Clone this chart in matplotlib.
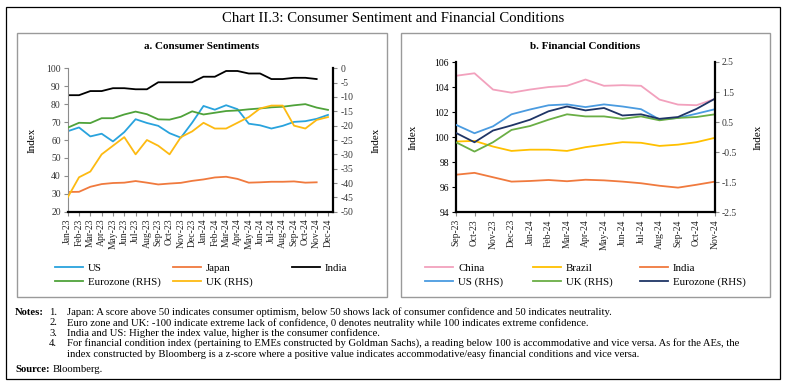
import numpy as np
import matplotlib
matplotlib.use("Agg")
import matplotlib.pyplot as plt
from matplotlib.patches import Rectangle

plt.rcParams['font.family'] = ['Liberation Serif', 'DejaVu Serif']
plt.rcParams['axes.unicode_minus'] = False

# panel a: consumer sentiments (Jan-23 .. Dec-24)
months_a = ['Jan-23', 'Feb-23', 'Mar-23', 'Apr-23', 'May-23', 'Jun-23', 'Jul-23', 'Aug-23',
            'Sep-23', 'Oct-23', 'Nov-23', 'Dec-23', 'Jan-24', 'Feb-24', 'Mar-24', 'Apr-24',
            'May-24', 'Jun-24', 'Jul-24', 'Aug-24', 'Sep-24', 'Oct-24', 'Nov-24', 'Dec-24']
us_a = [64.9, 67.0, 62.0, 63.5, 59.2, 64.4, 71.6, 69.5, 67.9, 63.8, 61.3, 69.7,
        79.0, 76.9, 79.4, 77.2, 69.1, 68.2, 66.4, 67.9, 70.1, 70.5, 71.8, 74.0]
japan_a = [31.0, 31.1, 33.9, 35.4, 36.0, 36.2, 37.1, 36.2, 35.2, 35.7, 36.1, 37.2,
           38.0, 39.1, 39.5, 38.3, 36.2, 36.4, 36.7, 36.7, 36.9, 36.2, 36.4, np.nan]
india_a = [85.0, 85.0, 87.3, 87.3, 88.9, 88.9, 88.3, 88.3, 92.2, 92.2, 92.2, 92.2,
           95.3, 95.3, 98.5, 98.5, 97.1, 97.1, 94.0, 94.0, 94.7, 94.7, 94.0, np.nan]
ez_a = [-20.7, -19.0, -19.1, -17.4, -17.4, -16.1, -15.1, -16.0, -17.8, -17.9, -16.9, -15.0,
        -16.1, -15.5, -14.9, -14.7, -14.3, -14.0, -13.6, -13.4, -12.9, -12.5, -13.7, -14.5]
uk_a = [-45, -38, -36, -30, -27, -24, -30, -25, -27, -30, -24, -22,
        -19, -21, -21, -19, -17, -14, -13, -13, -20, -21, -18, -17]

# panel b: financial conditions (Sep-23 .. Nov-24)
months_b = ['Sep-23', 'Oct-23', 'Nov-23', 'Dec-23', 'Jan-24', 'Feb-24', 'Mar-24', 'Apr-24',
            'May-24', 'Jun-24', 'Jul-24', 'Aug-24', 'Sep-24', 'Oct-24', 'Nov-24']
china_b = [104.9, 105.1, 103.8, 103.55, 103.8, 104.0, 104.1, 104.6, 104.1, 104.15, 104.1,
           103.0, 102.6, 102.55, 103.05]
brazil_b = [99.65, 99.7, 99.25, 98.9, 99.0, 99.0, 98.9, 99.2, 99.4, 99.6, 99.55, 99.3,
            99.4, 99.6, 99.95]
india_b = [97.0, 97.15, 96.8, 96.45, 96.5, 96.58, 96.48, 96.6, 96.55, 96.45, 96.32, 96.12,
           95.97, 96.2, 96.45]
us_b = [0.41, 0.13, 0.36, 0.76, 0.92, 1.06, 1.09, 1.0, 1.09, 1.02, 0.93, 0.59, 0.64, 0.78, 0.93]
uk_b = [-0.17, -0.48, -0.17, 0.24, 0.37, 0.58, 0.76, 0.69, 0.69, 0.61, 0.69, 0.56, 0.64, 0.67, 0.76]
ez_b = [0.14, -0.17, 0.22, 0.39, 0.58, 0.86, 1.02, 0.89, 0.97, 0.72, 0.76, 0.61, 0.67, 0.94, 1.28]

W, H = 786, 386
fig = plt.figure(figsize=(W / 100, H / 100), dpi=100)


def fx(x):
    return x / W


def fy(y):
    return 1 - y / H


def box(x0, y0, x1, y1, color, lw):
    fig.patches.append(Rectangle((fx(x0), fy(y1)), fx(x1) - fx(x0), fy(y0) - fy(y1),
                                 transform=fig.transFigure, fill=False, ec=color, lw=lw))


# outer frame and panel frames
box(6, 7, 780, 379, 'black', 0.9)
box(17, 33, 387, 297, '#9a9a9a', 1.0)
box(401, 33, 770, 297, '#9a9a9a', 1.0)

fig.text(fx(393), fy(19), 'Chart II.3: Consumer Sentiment and Financial Conditions',
         ha='center', va='center', fontsize=10.6)
fig.text(fx(202), fy(46.5), 'a. Consumer Sentiments', ha='center', va='center',
         fontsize=8, fontweight='bold')
fig.text(fx(585), fy(46.5), 'b. Financial Conditions', ha='center', va='center',
         fontsize=8, fontweight='bold')

lw = 1.3
tick_fs = 6.9


def style_axes(ax, ax2, left_grey):
    ax.spines['top'].set_visible(False)
    ax2.spines['top'].set_visible(False)
    ax2.spines['left'].set_visible(False)
    ax2.spines['bottom'].set_visible(False)
    ax.spines['right'].set_visible(False)
    ax.spines['bottom'].set_linewidth(1.6)
    ax2.spines['right'].set_linewidth(1.6)
    if left_grey:
        ax.spines['left'].set_color('#8c8c8c')
        ax.spines['left'].set_linewidth(0.8)
        ax.tick_params(axis='y', colors='#8c8c8c', labelcolor='#333333')
    else:
        ax.spines['left'].set_linewidth(1.6)
    ax.tick_params(axis='both', direction='out', length=3, width=0.8, labelsize=tick_fs, pad=2)
    ax.tick_params(axis='x', colors='#8c8c8c', labelcolor='#222222')
    ax2.tick_params(axis='y', direction='out', length=3, width=0.8, labelsize=tick_fs, pad=2,
                    colors='#8c8c8c', labelcolor='#333333')


# ---- panel a ----
ax = fig.add_axes([fx(67.7), fy(211.7), fx(333.3) - fx(67.7), fy(68.3) - fy(211.7)])
ax2 = ax.twinx()
xa = np.arange(len(months_a))
l_us, = ax.plot(xa, us_a, color='#29A3DD', lw=lw, label='US')
l_jp, = ax.plot(xa, japan_a, color='#F07A3E', lw=lw, label='Japan')
l_in, = ax.plot(xa, india_a, color='black', lw=lw, label='India')
l_ez, = ax2.plot(xa, ez_a, color='#4FA23A', lw=lw, label='Eurozone (RHS)')
l_uk, = ax2.plot(xa, uk_a, color='#FDBA12', lw=lw, label='UK (RHS)')
ax.set_xlim(0, 23.47)
ax.set_ylim(20, 100)
ax.set_yticks(range(20, 101, 10))
ax2.set_ylim(-50, 0)
ax2.set_yticks(range(-50, 1, 5))
ax.set_xticks(xa)
ax.set_xticklabels(months_a, rotation=90)
ax.set_ylabel('Index', fontsize=8, labelpad=7)
ax2.set_ylabel('Index', fontsize=8, labelpad=13)
style_axes(ax, ax2, True)

# ---- panel b ----
bx = fig.add_axes([fx(456), fy(212.3), fx(715) - fx(456), fy(62) - fy(212.3)])
bx2 = bx.twinx()
xb = np.arange(len(months_b))
l_cn, = bx.plot(xb, china_b, color='#F2A1BD', lw=lw, label='China')
l_br, = bx.plot(xb, brazil_b, color='#FFC000', lw=lw, label='Brazil')
l_ib, = bx.plot(xb, india_b, color='#F07A3E', lw=lw, label='India')
l_ub, = bx2.plot(xb, us_b, color='#4A9BE0', lw=lw, label='US (RHS)')
l_kb, = bx2.plot(xb, uk_b, color='#6AAE45', lw=lw, label='UK (RHS)')
l_eb, = bx2.plot(xb, ez_b, color='#1F3566', lw=lw, label='Eurozone (RHS)')
bx.set_xlim(0, 14)
bx.set_ylim(94, 106)
bx.set_yticks(range(94, 107, 2))
bx2.set_ylim(-2.5, 2.5)
bx2.set_yticks([-2.5, -1.5, -0.5, 0.5, 1.5, 2.5])
bx.set_xticks(xb)
bx.set_xticklabels(months_b, rotation=90)
bx.set_ylabel('Index', fontsize=8, labelpad=12)
bx2.set_ylabel('Index', fontsize=8, labelpad=12)
style_axes(bx, bx2, False)


# legends, one per column so columns sit like the reference
def legend_col(handles, x, y):
    return fig.legend(handles=handles, loc='upper left', bbox_to_anchor=(fx(x), fy(y)),
                      frameon=False, fontsize=7.8, handlelength=2.6, handletextpad=0.45,
                      borderaxespad=0, borderpad=0, labelspacing=0.4)


legend_col([l_us, l_ez], 55, 263)
legend_col([l_jp, l_uk], 173, 263)
legend_col([l_in], 292, 263)
legend_col([l_cn, l_ub], 425, 263)
legend_col([l_br, l_kb], 533, 263)
legend_col([l_ib, l_eb], 640, 263)

# notes
notes = [
    'Japan: A score above 50 indicates consumer optimism, below 50 shows lack of consumer confidence and 50 indicates neutrality.',
    'Euro zone and UK: -100 indicate extreme lack of confidence, 0 denotes neutrality while 100 indicates extreme confidence.',
    'India and US: Higher the index value, higher is the consumer confidence.',
    'For financial condition index (pertaining to EMEs constructed by Goldman Sachs), a reading below 100 is accommodative and vice versa. As for the AEs, the',
    'index constructed by Bloomberg is a z-score where a positive value indicates accommodative/easy financial conditions and vice versa.',
]
nfs = 7.7
fig.text(fx(15), fy(312.5), 'Notes:', fontsize=nfs, fontweight='bold', va='center')
ys = [312.5, 322.8, 333.1, 343.4, 353.7]
for i, (t, y) in enumerate(zip(notes, ys)):
    if i < 4:
        fig.text(fx(49), fy(y), '%d.' % (i + 1), fontsize=nfs, va='center')
    fig.text(fx(67), fy(y), t, fontsize=nfs, va='center')
fig.text(fx(15), fy(369), 'Source:', fontsize=nfs, fontweight='bold', va='center')
fig.text(fx(53), fy(369), 'Bloomberg.', fontsize=nfs, va='center')

fig.savefig('out.png', dpi=100)
